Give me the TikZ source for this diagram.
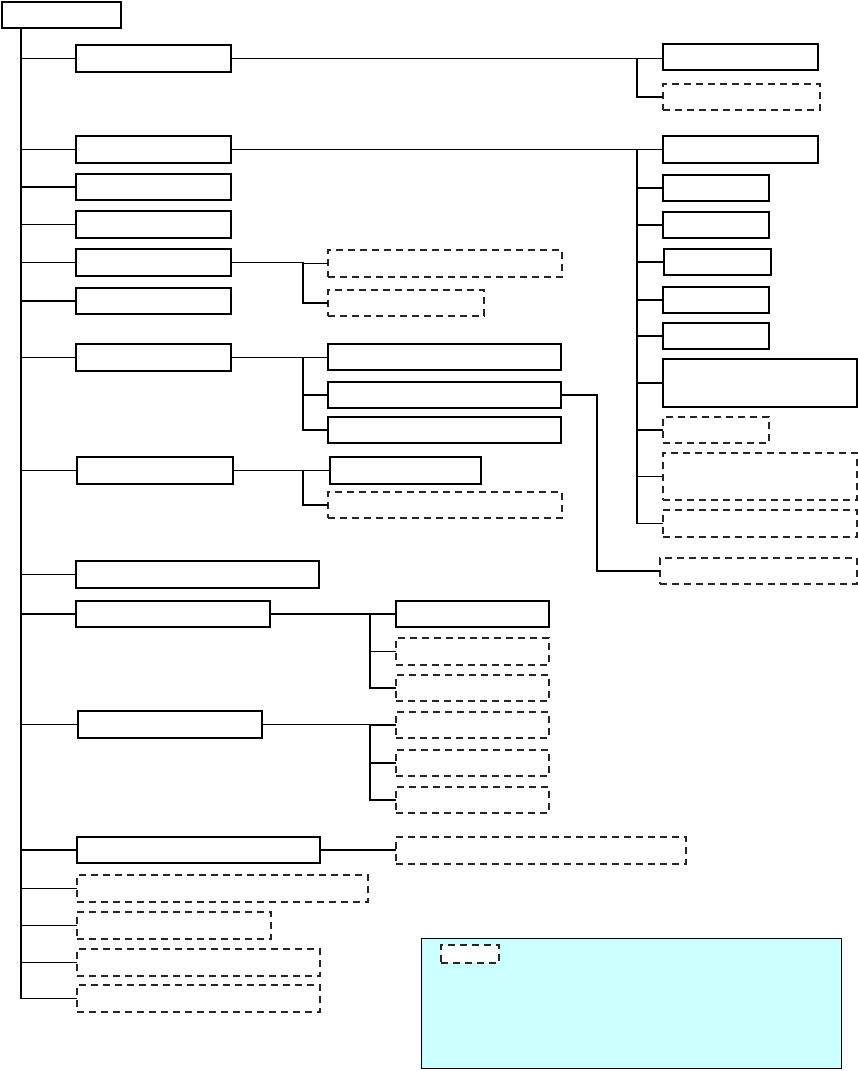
\documentclass[tikz,border=0pt]{standalone}
\usetikzlibrary{calc}
\definecolor{legendfill}{HTML}{CCFFFF}
\tikzset{
  solidbox/.style={draw=black, line width=1.6pt, inner sep=0pt, outer sep=0pt, fill=white},
  dashbox/.style={draw=black!85, line width=2.1pt, dash pattern=on 7pt off 5pt, inner sep=0pt, outer sep=0pt, fill=white},
  conn/.style={draw=black, line width=1.3pt},
  trunkline/.style={draw=black, line width=2.2pt},
  legendbox/.style={draw=black, line width=1pt, fill=legendfill, inner sep=0pt, outer sep=0pt},
}
% box: style, name, x1, y1, x2, y2
\newcommand{\mybox}[6]{%
  \pgfmathsetmacro{\bw}{#5-#3}\pgfmathsetmacro{\bh}{#6-#4}%
  \node[#1, anchor=north west, minimum width=\bw pt, minimum height=\bh pt] (#2) at (#3,#4) {};}
\begin{document}
\begin{tikzpicture}[x=1pt,y=-1pt]
\useasboundingbox (0,0) rectangle (858,1071);
% legend
\mybox{legendbox}{legend}{421}{938}{841}{1068}
\mybox{dashbox}{legendkey}{441}{945}{499}{963}
% root
\mybox{solidbox,line width=2.4pt}{root}{2}{2}{121}{28}
% level 1
\mybox{solidbox}{b1}{76}{45}{231}{72}
\mybox{solidbox}{b2}{76}{136}{231}{163}
\mybox{solidbox}{b3}{76}{174}{231}{200}
\mybox{solidbox}{b4}{76}{211}{231}{238}
\mybox{solidbox}{b5}{76}{249}{231}{276}
\mybox{solidbox}{b6}{76}{288}{231}{314}
\mybox{solidbox}{b7}{76}{344}{231}{371}
\mybox{solidbox}{b8}{77}{457}{233}{484}
\mybox{solidbox}{b9}{76}{561}{319}{588}
\mybox{solidbox}{b10}{76}{601}{270}{627}
\mybox{solidbox}{b11}{78}{711}{262}{738}
\mybox{solidbox}{b12}{77}{837}{320}{863}
\mybox{dashbox}{b13}{77}{875}{368}{902}
\mybox{dashbox}{b14}{77}{912}{271}{939}
\mybox{dashbox}{b15}{77}{949}{320}{976}
\mybox{dashbox}{b16}{77}{985}{320}{1012}
% trunk
\coordinate (t) at (21,0);
\draw[trunkline] (root.south -| t) -- (t |- b16.west);
\foreach \n in {b1,b2,b3,b4,b5,b6,b7,b8,b9,b10,b11,b12,b13,b14,b15,b16}
  \draw[conn] (t |- \n.west) -- (\n.west);
% right group 1
\mybox{solidbox}{r1}{663}{44}{818}{70}
\mybox{dashbox}{r1b}{663}{84}{820}{110}
\coordinate (jr) at (637,0);
\draw[conn] (b1.east) -- (b1.east -| r1.west);
\draw[conn] (b1.east -| jr) |- (r1b.west);
% right group 2
\mybox{solidbox}{r2}{663}{136}{818}{163}
\mybox{solidbox}{r21}{663}{175}{769}{201}
\mybox{solidbox}{r22}{663}{212}{769}{238}
\mybox{solidbox}{r23}{664}{249}{771}{275}
\mybox{solidbox}{r24}{663}{287}{769}{313}
\mybox{solidbox}{r25}{663}{323}{769}{349}
\mybox{solidbox}{r26}{663}{359}{857}{407}
\mybox{dashbox}{r27}{663}{417}{769}{443}
\mybox{dashbox}{r28}{663}{453}{857}{500}
\mybox{dashbox}{r29}{663}{510}{857}{537}
\draw[conn] (b2.east) -- (b2.east -| r2.west);
\foreach \n in {r21,r22,r23,r24,r25,r26,r27,r28,r29}
  \draw[conn] (b2.east -| jr) |- (\n.west);
% b5 children
\coordinate (jm) at (303,0);
\mybox{dashbox}{c51}{328}{250}{562}{277}
\mybox{dashbox}{c52}{328}{290}{484}{316}
\draw[conn] (b5.east) -- (b5.east -| jm) |- (c51.west);
\draw[conn] (b5.east -| jm) |- (c52.west);
% b7 children
\mybox{solidbox}{c71}{328}{344}{561}{370}
\mybox{solidbox}{c72}{328}{382}{561}{408}
\mybox{solidbox}{c73}{328}{417}{561}{443}
\draw[conn] (b7.east) -- (b7.east -| c71.west);
\draw[conn] (b7.east -| jm) |- (c72.west);
\draw[conn] (b7.east -| jm) |- (c73.west);
\mybox{dashbox}{c72a}{660}{558}{857}{584}
\coordinate (jc) at (597,0);
\draw[conn] (c72.east) -- (c72.east -| jc) |- (c72a.west);
% b8 children
\mybox{solidbox}{c81}{330}{457}{481}{484}
\mybox{dashbox}{c82}{328}{492}{562}{518}
\draw[conn] (b8.east) -- (b8.east -| c81.west);
\draw[conn] (b8.east -| jm) |- (c82.west);
% b10 children
\coordinate (jl) at (370,0);
\mybox{solidbox}{d1}{396}{601}{549}{627}
\mybox{dashbox}{d2}{396}{638}{549}{665}
\mybox{dashbox}{d3}{396}{675}{549}{701}
\draw[conn] (b10.east) -- (b10.east -| d1.west);
\draw[conn] (b10.east -| jl) |- (d2.west);
\draw[conn] (b10.east -| jl) |- (d3.west);
% b11 children
\mybox{dashbox}{e1}{396}{712}{549}{738}
\mybox{dashbox}{e2}{396}{750}{549}{776}
\mybox{dashbox}{e3}{396}{787}{549}{813}
\draw[conn] (b11.east) -- (b11.east -| jl) |- (e1.west);
\draw[conn] (b11.east -| jl) |- (e2.west);
\draw[conn] (b11.east -| jl) |- (e3.west);
% b12 child
\mybox{dashbox}{f1}{396}{837}{686}{864}
\draw[conn] (b12.east) -- (b12.east -| f1.west);
\end{tikzpicture}
\end{document}
